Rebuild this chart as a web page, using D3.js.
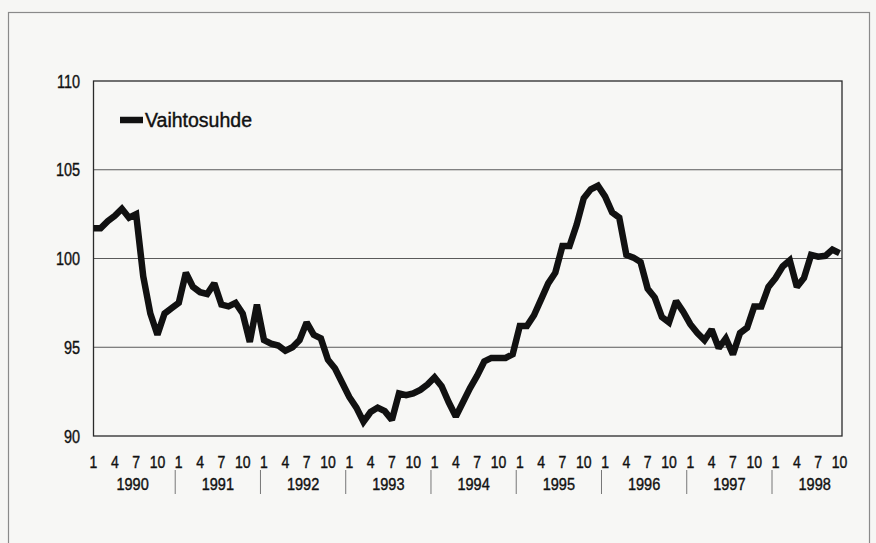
<!DOCTYPE html>
<html>
<head>
<meta charset="utf-8">
<script src="https://cdn.jsdelivr.net/npm/d3@7"></script>
<style>
  html, body { margin: 0; padding: 0; background: #f6f6f4; }
  svg { display: block; }
  text { font-family: "Liberation Sans", Arial, sans-serif; fill: #111; stroke: #111; stroke-width: 0.4px; }
</style>
</head>
<body>
<script>
var width = 876,
    height = 543;

// Vaihtosuhde, kuukausittain 1/1990 - 10/1998
const years = ["1990", "1991", "1992", "1993", "1994", "1995", "1996", "1997", "1998"];
const monthTicks = [1, 4, 7, 10];
const yTicks = [90, 95, 100, 105, 110];
const seriesName = "Vaihtosuhde";

const v1990 = [101.7, 101.7, 102.1, 102.4, 102.8, 102.3, 102.5, 99.0, 96.9, 95.7, 96.9, 97.2];
const v1991 = [97.5, 99.2, 98.4, 98.1, 98.0, 98.6, 97.4, 97.3, 97.5, 96.9, 95.3, 97.4];
const v1992 = [95.4, 95.2, 95.1, 94.8, 95.0, 95.4, 96.4, 95.7, 95.5, 94.3, 93.8, 93.0];
const v1993 = [92.2, 91.6, 90.8, 91.35, 91.6, 91.4, 90.9, 92.4, 92.3, 92.4, 92.6, 92.9];
const v1994 = [93.3, 92.8, 91.9, 91.1, 91.9, 92.7, 93.4, 94.2, 94.4, 94.4, 94.4, 94.6];
const v1995 = [96.2, 96.2, 96.8, 97.7, 98.6, 99.2, 100.7, 100.7, 101.9, 103.4, 103.9, 104.1];
const v1996 = [103.5, 102.6, 102.3, 100.2, 100.05, 99.8, 98.3, 97.8, 96.7, 96.4, 97.6, 97.0];
const v1997 = [96.3, 95.8, 95.4, 96.0, 94.95, 95.5, 94.6, 95.8, 96.1, 97.3, 97.3, 98.4];
const v1998 = [98.9, 99.55, 99.9, 98.4, 98.9, 100.2, 100.1, 100.15, 100.5, 100.3];

const values = [].concat(v1990, v1991, v1992, v1993, v1994, v1995, v1996, v1997, v1998);

var svg = d3.select("body").append("svg")
    .attr("width", width)
    .attr("height", height);

// ulkokehys
svg.append("rect")
    .attr("x", 8.5).attr("y", 12.5)
    .attr("width", 861).attr("height", 540)
    .attr("fill", "#f7f7f5")
    .attr("stroke", "#8a8a8a")
    .attr("stroke-width", 1.2);

var plot = { left: 93.5, right: 842, top: 81, bottom: 436 };

var x = d3.scaleLinear()
    .domain([0, 105])
    .range([plot.left, 839.5]);

var y = d3.scaleLinear()
    .domain([90, 110])
    .range([plot.bottom, plot.top]);

// kapeampi teksti: siirto + vaakasuuntainen skaalaus
function narrow(sel, px, py, s) {
    sel.attr("transform", (d, i) => `translate(${px(d, i)},${py(d, i)}) scale(${s},1)`);
}

// vaakaviivat
svg.append("g")
    .selectAll("line")
    .data(yTicks.filter(d => d > 90 && d < 110))
    .join("line")
    .attr("x1", plot.left).attr("x2", plot.right)
    .attr("y1", d => y(d)).attr("y2", d => y(d))
    .attr("stroke", "#5a5a5a")
    .attr("stroke-width", 1);

// kehys
svg.append("rect")
    .attr("x", plot.left).attr("y", plot.top)
    .attr("width", plot.right - plot.left).attr("height", plot.bottom - plot.top)
    .attr("fill", "none")
    .attr("stroke", "#2a2a2a")
    .attr("stroke-width", 1.3);

// y-akselin luvut
svg.append("g")
    .selectAll("text")
    .data(yTicks)
    .join("text")
    .attr("dy", "0.35em")
    .attr("text-anchor", "end")
    .style("font-size", "19px")
    .text(d => d)
    .call(narrow, () => 80, d => y(d), 0.76);

// kuukausien luvut
var monthLabels = [];
years.forEach(function (yr, k) {
    monthTicks.forEach(function (m) {
        var idx = k * 12 + m - 1;
        if (idx <= 105) monthLabels.push({ idx: idx, label: m });
    });
});

svg.append("g")
    .selectAll("text")
    .data(monthLabels)
    .join("text")
    .attr("dy", "0.35em")
    .attr("text-anchor", "middle")
    .style("font-size", "16.5px")
    .text(d => d.label)
    .call(narrow, d => x(d.idx), () => 462, 0.85);

// vuodet
svg.append("g")
    .selectAll("text")
    .data(years)
    .join("text")
    .attr("dy", "0.35em")
    .attr("text-anchor", "middle")
    .style("font-size", "16.5px")
    .text(d => d)
    .call(narrow, (d, k) => x(k * 12 + 5.5), () => 484, 0.88);

// vuosien erottimet
svg.append("g")
    .selectAll("line")
    .data(years.slice(1))
    .join("line")
    .attr("x1", (d, k) => x((k + 1) * 12 - 0.5))
    .attr("x2", (d, k) => x((k + 1) * 12 - 0.5))
    .attr("y1", 470).attr("y2", 494)
    .attr("stroke", "#777")
    .attr("stroke-width", 1);

// sarja
var line = d3.line()
    .x((d, i) => x(i))
    .y(d => y(d));

svg.append("path")
    .datum(values)
    .attr("d", line)
    .attr("fill", "none")
    .attr("stroke", "#111")
    .attr("stroke-width", 6.5)
    .attr("stroke-linejoin", "miter")
    .attr("stroke-miterlimit", 2);

// selite
svg.append("line")
    .attr("x1", 120).attr("x2", 143)
    .attr("y1", 120).attr("y2", 120)
    .attr("stroke", "#111")
    .attr("stroke-width", 6.5);

svg.append("text")
    .attr("dy", "0.35em")
    .style("font-size", "19.5px")
    .text(seriesName)
    .call(narrow, () => 145, () => 120, 1.0);
</script>
</body>
</html>
